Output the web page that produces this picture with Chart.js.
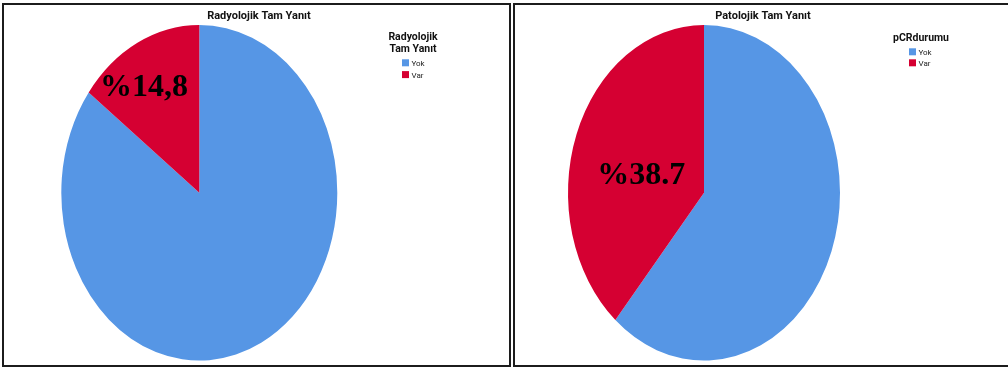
<!DOCTYPE html>
<html>
<head>
<meta charset="utf-8">
<script src="https://cdn.jsdelivr.net/npm/chart.js@4/dist/chart.umd.min.js"></script>
<style>
  body { margin: 0; background: #fff; width: 1008px; height: 367px; overflow: hidden; position: relative; }
  .panel { position: absolute; top: 3px; height: 364px; border: 2px solid #1c1c1c; box-sizing: border-box; overflow: hidden; background: #fff; }
  #panelLeft { left: 2px; width: 509px; }
  #panelRight { left: 513px; width: 500px; }
  .panel canvas { position: absolute; left: 0; top: 0; }
</style>
</head>
<body>
<div class="panel" id="panelLeft"><canvas id="radyolojikChart" width="505" height="360"></canvas></div>
<div class="panel" id="panelRight"><canvas id="patolojikChart" width="496" height="360"></canvas></div>
<script>
// yanit kategorileri ve yuzdeler
const cevaplar = ['Yok', 'Var'];
const radyolojikYuzde = [85.2, 14.8];
const patolojikYuzde = [61.3, 38.7];
const dilimRenkleri = ['#5696e5', '#d50032'];

const uiFont = 'Roboto';

// pie is drawn as an ellipse: squeeze x around the pie centre
const ellipsePlugin = {
    id: 'ellipse',
    beforeDatasetsDraw(chart, args, opts) {
        const arc = chart.getDatasetMeta(0).data[0];
        const ctx = chart.ctx;
        ctx.save();
        ctx.translate(arc.x, arc.y);
        ctx.scale(opts.scaleX, 1);
        ctx.translate(-arc.x, -arc.y);
    },
    afterDatasetsDraw(chart) {
        chart.ctx.restore();
    }
};

// big percentage text for the "Var" slice
const percentLabel = {
    id: 'percentLabel',
    afterDraw(chart, args, opts) {
        const arc = chart.getDatasetMeta(0).data[opts.index];
        const value = chart.data.datasets[0].data[opts.index];
        const ctx = chart.ctx;
        ctx.save();
        ctx.font = 'bold 32px "Liberation Serif", "Times New Roman", serif';
        ctx.fillStyle = '#000';
        ctx.textAlign = 'center';
        ctx.textBaseline = 'alphabetic';
        ctx.fillText('%' + value.toFixed(1).replace('.', opts.decimal), arc.x + opts.dx, arc.y + opts.dy);
        ctx.restore();
    }
};

// legend column right of the pie: centred title, small squares under it
const sideLegend = {
    id: 'sideLegend',
    afterDraw(chart, args, opts) {
        const items = chart.options.plugins.legend.labels.generateLabels(chart);
        const area = chart.chartArea;
        const ctx = chart.ctx;
        ctx.save();
        ctx.textBaseline = 'alphabetic';

        ctx.font = `bold 10.5px ${uiFont}`;
        ctx.fillStyle = '#111';
        ctx.textAlign = 'center';
        let y = area.top + opts.titleY;
        opts.title.forEach(line => {
            ctx.fillText(line, area.right + opts.titleX, y);
            y += 11.5;
        });

        ctx.font = `8px ${uiFont}`;
        ctx.textAlign = 'left';
        const boxX = area.right + opts.boxX;
        y = area.top + opts.boxY;
        items.forEach(item => {
            ctx.fillStyle = item.fillStyle;
            ctx.fillRect(boxX, y, 7, 7);
            ctx.fillStyle = '#222';
            ctx.fillText(item.text, boxX + 9.5, y + 6.8);
            y += opts.step;
        });
        ctx.restore();
    }
};

function makePie(canvasId, cfg) {
    const ctx = document.getElementById(canvasId).getContext('2d');
    return new Chart(ctx, {
        type: 'pie',
        data: {
            labels: cevaplar,
            datasets: [{
                data: cfg.values,
                backgroundColor: dilimRenkleri,
                borderWidth: 0,
                hoverOffset: 0
            }]
        },
        plugins: [ellipsePlugin, percentLabel, sideLegend],
        options: {
            responsive: false,
            animation: false,
            layout: { padding: cfg.padding },
            plugins: {
                title: {
                    display: true,
                    text: cfg.title,
                    color: '#111',
                    font: { family: uiFont, size: 11, weight: 'bold', lineHeight: 1.2 },
                    padding: { top: 4.9, bottom: 1.9 }
                },
                // empty right-hand box that reserves the legend column
                subtitle: {
                    display: true,
                    text: '',
                    position: 'right',
                    font: { size: 1, lineHeight: 1 },
                    padding: { top: cfg.legendColumn - 1, bottom: 0 }
                },
                legend: { display: false },
                tooltip: { enabled: false },
                ellipse: { scaleX: cfg.scaleX },
                percentLabel: cfg.label,
                sideLegend: cfg.legend
            }
        }
    });
}

makePie('radyolojikChart', {
    values: radyolojikYuzde,
    title: 'Radyolojik Tam Yanıt',
    legendColumn: 119.4,
    padding: { left: 5, right: 0, top: 0, bottom: 4.4 },
    scaleX: 0.8224,
    label: { index: 1, dx: -55.3, dy: -97.3, decimal: ',' },
    legend: { title: ['Radyolojik', 'Tam Yanıt'], titleX: 23.4, titleY: 15, boxX: 12.4, boxY: 34.3, step: 11.8 }
});

makePie('patolojikChart', {
    values: patolojikYuzde,
    title: 'Patolojik Tam Yanıt',
    legendColumn: 118,
    padding: { left: 0, right: 0, top: 0, bottom: 4.4 },
    scaleX: 0.8105,
    label: { index: 1, dx: -62.7, dy: -8.8, decimal: '.' },
    legend: { title: ['pCRdurumu'], titleX: 28, titleY: 16, boxX: 16, boxY: 23.3, step: 11 }
});
</script>
</body>
</html>
